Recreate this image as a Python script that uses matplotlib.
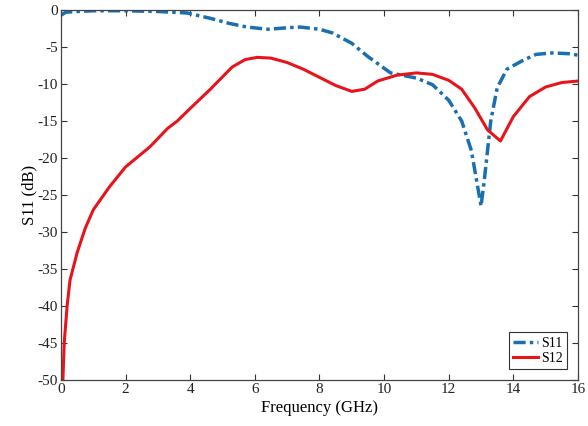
import matplotlib
matplotlib.use("Agg")
import matplotlib.pyplot as plt

# values
freq_s11 = [0, 0.15, 0.5, 1, 2, 3, 3.9, 4.6, 5.2, 5.75, 6.4, 7.0, 7.4, 8.0, 8.4,
            9.0, 9.5, 10.2, 11.0, 11.5, 12.0, 12.4, 12.7, 12.9, 13.0, 13.1, 13.3,
            13.5, 13.8, 14.3, 14.7, 15.2, 15.7, 16]
s11 = [-0.7, -0.3, -0.2, -0.1, -0.1, -0.2, -0.4, -1.1, -1.8, -2.3, -2.6, -2.4,
       -2.3, -2.6, -3.1, -4.5, -6.3, -8.5, -9.2, -10.1, -12.2, -15, -19, -24,
       -26.5, -23, -15, -10.5, -8, -6.8, -6.0, -5.8, -5.9, -6.1]

freq_s12 = [0.06, 0.1, 0.19, 0.28, 0.5, 0.75, 1.0, 1.5, 2.0, 2.75, 3.3, 3.6, 4.0,
            4.6, 5.3, 5.7, 6.07, 6.5, 7.0, 7.5, 8.0, 8.5, 9.0, 9.4, 9.8, 10.4,
            11.0, 11.5, 12.0, 12.4, 12.8, 13.2, 13.6, 14.0, 14.5, 15.0, 15.5, 16]
s12 = [-50, -45, -40, -36.5, -32.8, -29.5, -27, -23.9, -21.2, -18.5, -16, -15,
       -13.3, -10.8, -7.7, -6.7, -6.4, -6.5, -7.1, -8.0, -9.1, -10.2, -11.0,
       -10.7, -9.6, -8.8, -8.5, -8.7, -9.5, -10.7, -13.2, -16.2, -17.7, -14.4,
       -11.7, -10.4, -9.8, -9.6]

xticks = list(range(0, 17, 2))
yticks = list(range(-50, 1, 5))

plt.rcParams['font.family'] = ['Liberation Serif', 'DejaVu Serif']
plt.rcParams['font.size'] = 11
plt.rcParams['axes.unicode_minus'] = False

fig = plt.figure(figsize=(5.88, 4.26), dpi=100)
ax = fig.add_axes([0.1037, 0.108, 0.8793, 0.8685])

ax.plot(freq_s11, s11, color='#1a6fb0', lw=2.5, linestyle=(0, (3.5, 1.2, 1, 1.2)),
        label='S11')
ax.plot(freq_s12, s12, color='#e8141c', lw=2.2, label='S12')

ax.set_xlim(0, 16)
ax.set_ylim(-50, 0)
ax.set_xticks(xticks)
ax.set_yticks(yticks)
ax.tick_params(direction='in', top=True, right=True, length=4, colors='#333333',
               labelcolor='#222222', pad=2)
for s in ax.spines.values():
    s.set_color('#444444')
    s.set_linewidth(0.9)

ax.set_xlabel('Frequency (GHz)', fontsize=12, labelpad=3)
ax.set_ylabel('S11 (dB)', fontsize=12, labelpad=0)

leg = ax.legend(loc='lower right', fontsize=10, handlelength=1.8, borderpad=0.3,
                labelspacing=0.15, handletextpad=0.2, fancybox=False, framealpha=1,
                borderaxespad=0.8)
leg.get_frame().set_edgecolor('#333333')
leg.get_frame().set_linewidth(0.8)

fig.savefig('out.png', dpi=100)
